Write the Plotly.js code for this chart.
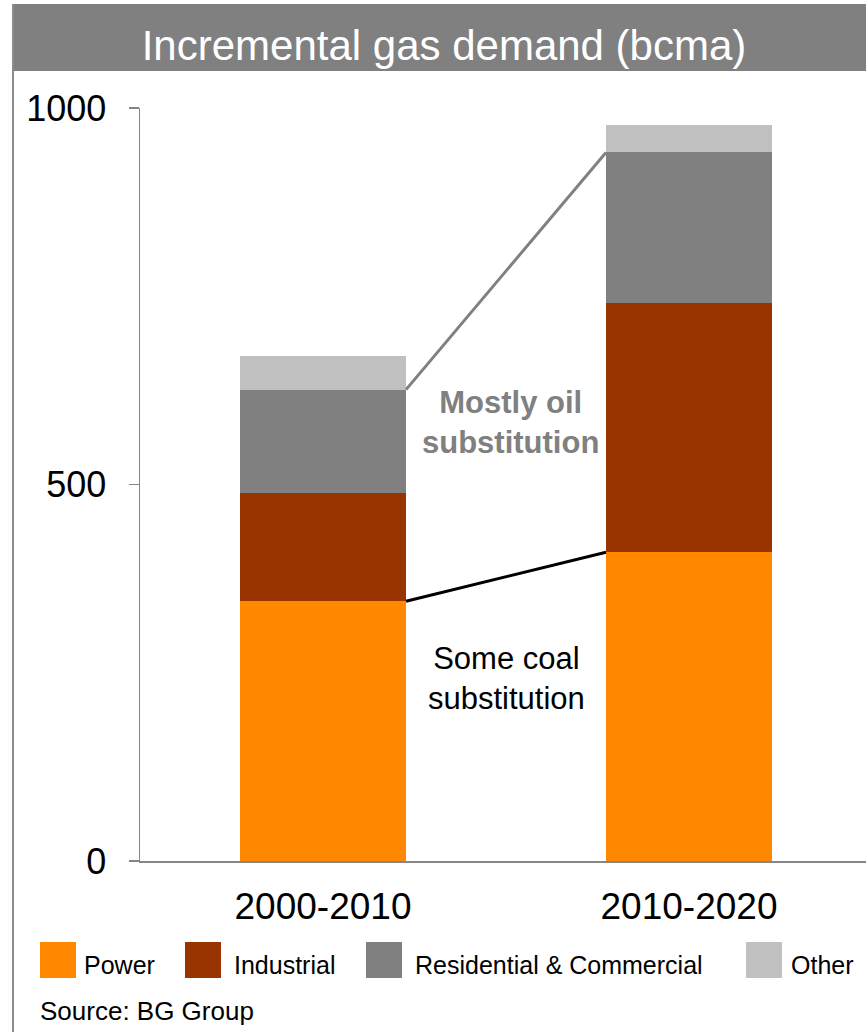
<!DOCTYPE html>
<html><head><meta charset="utf-8">
<script src="https://cdn.plot.ly/plotly-3.0.1.min.js"></script>
<style>html,body{margin:0;padding:0;background:#fff;overflow:hidden}</style>
</head><body><div id="chart" style="width:866px;height:1032px"></div>
<script>
// ---- data ----
const categories = ['2000-2010', '2010-2020'];
const seriesNames = ['Power', 'Industrial', 'Residential & Commercial', 'Other'];
const power = [345, 410];
const industrial = [144, 331];
const residential = [137, 200];
const other = [45, 36];
const yTickValues = [0, 500, 1000];
const yTickLabels = ['0', '500', '1000'];
const titleText = 'Incremental gas demand (bcma)';
const oilNote = 'Mostly oil<br>substitution';
const coalNote = 'Some coal<br>substitution';
const sourceText = 'Source: BG Group';

// ---- styles ----
const colors = ['#FF8800', '#993300', '#808080', '#C0C0C0'];
const FONT = '"Liberation Sans", Arial, Helvetica, sans-serif';
const W = 866, H = 1032;
const M = {l: 140, r: 0, t: 108, b: 171};
const plotW = W - M.l - M.r, plotH = H - M.t - M.b;
const px = x => (x - M.l) / plotW;          // pixel -> paper x
const py = y => (H - M.b - y) / plotH;      // pixel -> paper y
const barWidth = 0.4536;
const xRange = [-0.5, -0.5 + plotW / 366];

const seriesValues = [power, industrial, residential, other];
const traces = seriesValues.map((vals, i) => ({
  type: 'bar', name: seriesNames[i], x: categories, y: vals,
  width: barWidth, marker: {color: colors[i], line: {width: 0}},
  hoverinfo: 'skip'
}));

// cumulative tops for connector lines
const cum = (k, j) => seriesValues.slice(0, k + 1).reduce((s, a) => s + a[j], 0);
const half = barWidth / 2;

const shapes = [
  // title bar
  {type: 'rect', xref: 'paper', yref: 'paper', x0: px(12), x1: px(870), y0: py(71), y1: py(4),
   fillcolor: '#808080', line: {width: 0}, layer: 'below'},
  // left frame line
  {type: 'line', xref: 'paper', yref: 'paper', x0: px(13), x1: px(13), y0: py(4), y1: py(1040),
   line: {color: '#8c8c8c', width: 2}},
  // connectors
  {type: 'line', xref: 'x', yref: 'y', x0: 0 + half, x1: 1 - half, y0: cum(2, 0), y1: cum(2, 1),
   line: {color: '#808080', width: 3}},
  {type: 'line', xref: 'x', yref: 'y', x0: 0 + half, x1: 1 - half, y0: cum(0, 0), y1: cum(0, 1),
   line: {color: '#000000', width: 3}}
];

// custom legend (large square swatches)
const legendSquareX = [40, 185, 366, 746];
const legendTextX = [82, 232, 413, 789];
const annotations = [];
seriesNames.forEach((n, i) => {
  shapes.push({type: 'rect', xref: 'paper', yref: 'paper',
    x0: px(legendSquareX[i]), x1: px(legendSquareX[i] + 36), y0: py(978), y1: py(942),
    fillcolor: colors[i], line: {width: 0}});
  annotations.push({xref: 'paper', yref: 'paper', x: px(legendTextX[i]), y: py(965),
    xanchor: 'left', yanchor: 'middle', text: n, showarrow: false,
    font: {family: FONT, size: 25, color: '#000'}});
});
annotations.push(
  {xref: 'paper', yref: 'paper', x: px(510), y: py(423), xanchor: 'center', yanchor: 'middle',
   text: '<b>' + oilNote.replace('<br>', '</b><br><b>') + '</b>', showarrow: false,
   font: {family: FONT, size: 31, color: '#808080'}},
  {xref: 'paper', yref: 'paper', x: px(507), y: py(678), xanchor: 'center', yanchor: 'middle',
   text: coalNote, showarrow: false, font: {family: FONT, size: 31, color: '#000'}},
  {xref: 'paper', yref: 'paper', x: px(38), y: py(1011), xanchor: 'left', yanchor: 'middle',
   text: sourceText, showarrow: false, font: {family: FONT, size: 26, color: '#000'}}
);

const layout = {
  width: W, height: H,
  margin: M,
  paper_bgcolor: '#fff', plot_bgcolor: '#fff',
  barmode: 'stack', showlegend: false,
  font: {family: FONT, color: '#000'},
  title: {text: titleText, font: {family: FONT, size: 42, color: '#fff'},
          x: 444 / W, xref: 'container', xanchor: 'center',
          y: 1 - 45 / H, yref: 'container', yanchor: 'middle'},
  xaxis: {type: 'category', range: xRange, showline: true, linecolor: '#868686', linewidth: 1.5,
          ticks: '', showgrid: false, zeroline: false, fixedrange: true,
          tickfont: {family: FONT, size: 37, color: '#000'}, ticklabelstandoff: 12},
  yaxis: {range: [0, 1000], tickvals: yTickValues, ticktext: yTickLabels,
          ticks: 'outside', ticklen: 10, tickwidth: 1.5, tickcolor: '#868686',
          showline: true, linecolor: '#868686', linewidth: 1.5,
          showgrid: false, zeroline: false, fixedrange: true,
          tickfont: {family: FONT, size: 36, color: '#000'}, ticklabelstandoff: 15},
  shapes: shapes,
  annotations: annotations
};

Plotly.newPlot('chart', traces, layout, {displayModeBar: false, staticPlot: true});
</script>
</body></html>
